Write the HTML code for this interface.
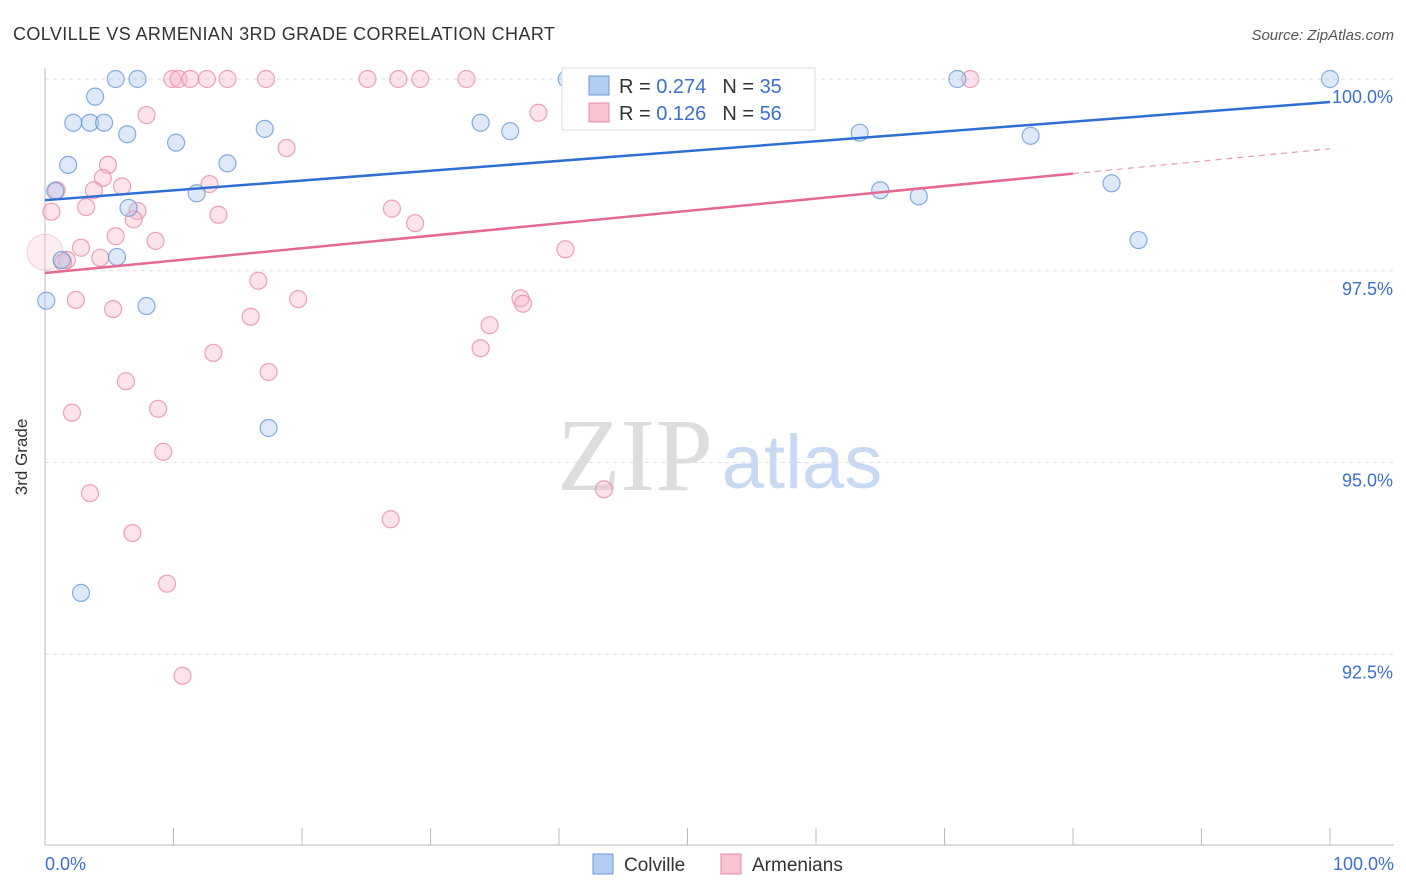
<!DOCTYPE html>
<html><head><meta charset="utf-8"><style>
body{margin:0;background:#fff;font-family:"Liberation Sans",sans-serif;}
svg{display:block}
</style></head><body>
<svg id="c" width="1406" height="892">
<text x="13" y="40" font-size="18" letter-spacing="0.4" fill="#333">COLVILLE VS ARMENIAN 3RD GRADE CORRELATION CHART</text>
<text x="1394" y="40" font-size="15" fill="#555" font-style="italic" text-anchor="end">Source: ZipAtlas.com</text>
<text x="27" y="457" font-size="17" fill="#333" text-anchor="middle" transform="rotate(-90 27 457)">3rd Grade</text>
<g><text x="635" y="490" font-size="104" font-family="Liberation Serif,serif" fill="#ddd" text-anchor="middle">ZIP</text><text x="802" y="488" font-size="76" fill="#c8daf2" text-anchor="middle">atlas</text></g>
<g id="grid"></g><g id="marks"></g>
<g>
<rect x="562" y="68" width="253" height="62" fill="#fff" stroke="#ddd"/>
<rect x="589" y="76" width="20" height="19" fill="#b3cdf2" stroke="#6a9ad8"/>
<text x="619" y="93" font-size="20" fill="#333">R = <tspan fill="#3b6fd0">0.274</tspan><tspan dx="16">N = </tspan><tspan fill="#3b6fd0">35</tspan></text>
<rect x="589" y="103" width="20" height="19" fill="#f9c3d1" stroke="#e88aa5"/>
<text x="619" y="120" font-size="20" fill="#333">R =  <tspan fill="#3b6fd0">0.126</tspan><tspan dx="16">N = </tspan><tspan fill="#3b6fd0">56</tspan></text>
</g>
<g>
<rect x="593" y="854" width="20" height="20" fill="#b3cdf2" stroke="#6a9ad8"/>
<text x="624" y="871" font-size="19" fill="#333">Colville</text>
<rect x="721" y="854" width="20" height="20" fill="#f9c3d1" stroke="#e88aa5"/>
<text x="752" y="871" font-size="19" fill="#333">Armenians</text>
</g>
</svg>
<script>
const yTicks=[100,97.5,95,92.5];
const yTickLabels=["100.0%","97.5%","95.0%","92.5%"];
const xEndLabels=["0.0%","100.0%"];
const colvilleX=[5.5,7.2,40.6,42.4,46.0,48.0,53.5,71.0,100,3.9,2.2,3.5,4.6,6.4,17.1,10.2,33.9,36.2,1.8,14.2,11.8,0.8,63.4,76.7,65.0,68.0,83.0,6.5,5.6,1.3,85.1,0.1,7.9,17.4,2.8];
const colvilleY=[100,100,100,100,100,100,100,100,100,99.77,99.43,99.43,99.43,99.28,99.35,99.17,99.43,99.32,98.88,98.90,98.51,98.54,99.30,99.26,98.55,98.47,98.64,98.32,97.68,97.64,97.90,97.11,97.04,95.45,93.30];
const armX=[9.9,10.4,11.3,12.6,14.2,17.2,25.1,27.5,29.2,32.8,72.0,7.9,38.4,18.8,4.9,4.5,3.8,6.0,0.9,12.8,3.2,7.2,0.5,6.9,13.5,27.0,28.8,5.5,8.6,2.8,0,1.7,4.3,40.5,16.6,2.4,5.3,19.7,37.0,37.2,16.0,34.6,13.1,33.9,17.4,6.3,2.1,8.8,9.2,3.5,43.5,26.9,6.8,9.5,10.7,1.4];
const armY=[100,100,100,100,100,100,100,100,100,100,100,99.53,99.56,99.10,98.88,98.71,98.55,98.60,98.55,98.63,98.33,98.28,98.27,98.17,98.23,98.31,98.12,97.95,97.89,97.80,97.74,97.64,97.67,97.78,97.37,97.12,97.00,97.13,97.14,97.07,96.90,96.79,96.43,96.49,96.18,96.06,95.65,95.70,95.14,94.60,94.65,94.26,94.08,93.42,92.22,97.61];
const colvilleTrend=[98.42,99.70];
const armTrend=[97.47,99.09];
const armSolidEnd=80;
const NS="http://www.w3.org/2000/svg";
const X=v=>45+v*12.85, Y=v=>79+(100-v)*76.7;
function mk(t,a,p){const e=document.createElementNS(NS,t);for(const k in a)e.setAttribute(k,a[k]);p.appendChild(e);return e;}
const g=document.getElementById('grid'), m=document.getElementById('marks');
yTicks.forEach((t,i)=>{
 const l=mk('line',{x1:45,x2:1394,y1:Y(t),y2:Y(t),stroke:'#ddd','stroke-dasharray':'4 4'},g);
 
 
 const tx=mk('text',{x:1393,y:Y(t)+24,'font-size':18,fill:'#3b6fd0','text-anchor':'end'},g);tx.textContent=yTickLabels[i];
 
 
});
const ax=mk('line',{x1:45,x2:45,y1:68,y2:845,stroke:'#bbb'},g);


const bx=mk('line',{x1:45,x2:1394,y1:845,y2:845,stroke:'#bbb'},g);


for(let i=0;i<=10;i++){const t=mk('line',{x1:X(i*10),x2:X(i*10),y1:828,y2:845,stroke:'#bbb'},g);
 
 }
[[0,'start',45],[100,'end',1394]].forEach((d,i)=>{const t=mk('text',{x:d[2],y:870,'font-size':18,fill:'#3b6fd0','text-anchor':d[1]},g);t.textContent=xEndLabels[i];
 
 });
function pts(xs,ys,fill,stroke,name){xs.forEach((x,i)=>{const big=(name==='armenians-point'&&x===0&&ys[i]===97.74);const c=mk('circle',{cx:X(x),cy:Y(ys[i]),r:big?18:8.5,fill:fill,'fill-opacity':big?0.25:0.4,stroke:stroke,'stroke-opacity':big?0.3:0.75,'stroke-width':1.2},m);
 
 });}
pts(armX,armY,'#f7b6c8','#e8849f','armenians-point');
pts(colvilleX,colvilleY,'#a9c8f0','#5f92d8','colville-point');
const bl=mk('line',{x1:X(0),y1:Y(colvilleTrend[0]),x2:X(100),y2:Y(colvilleTrend[1]),stroke:'#2f6fd3','stroke-width':2.5},m);


const ay=x=>armTrend[0]+(armTrend[1]-armTrend[0])*x/100;
const pl=mk('line',{x1:X(0),y1:Y(ay(0)),x2:X(armSolidEnd),y2:Y(ay(armSolidEnd)),stroke:'#e46a94','stroke-width':2.5},m);


const pd=mk('line',{x1:X(armSolidEnd),y1:Y(ay(armSolidEnd)),x2:X(100),y2:Y(ay(100)),stroke:'#e89ab4','stroke-width':1.2,'stroke-dasharray':'6 5'},m);


</script>
</body></html>
